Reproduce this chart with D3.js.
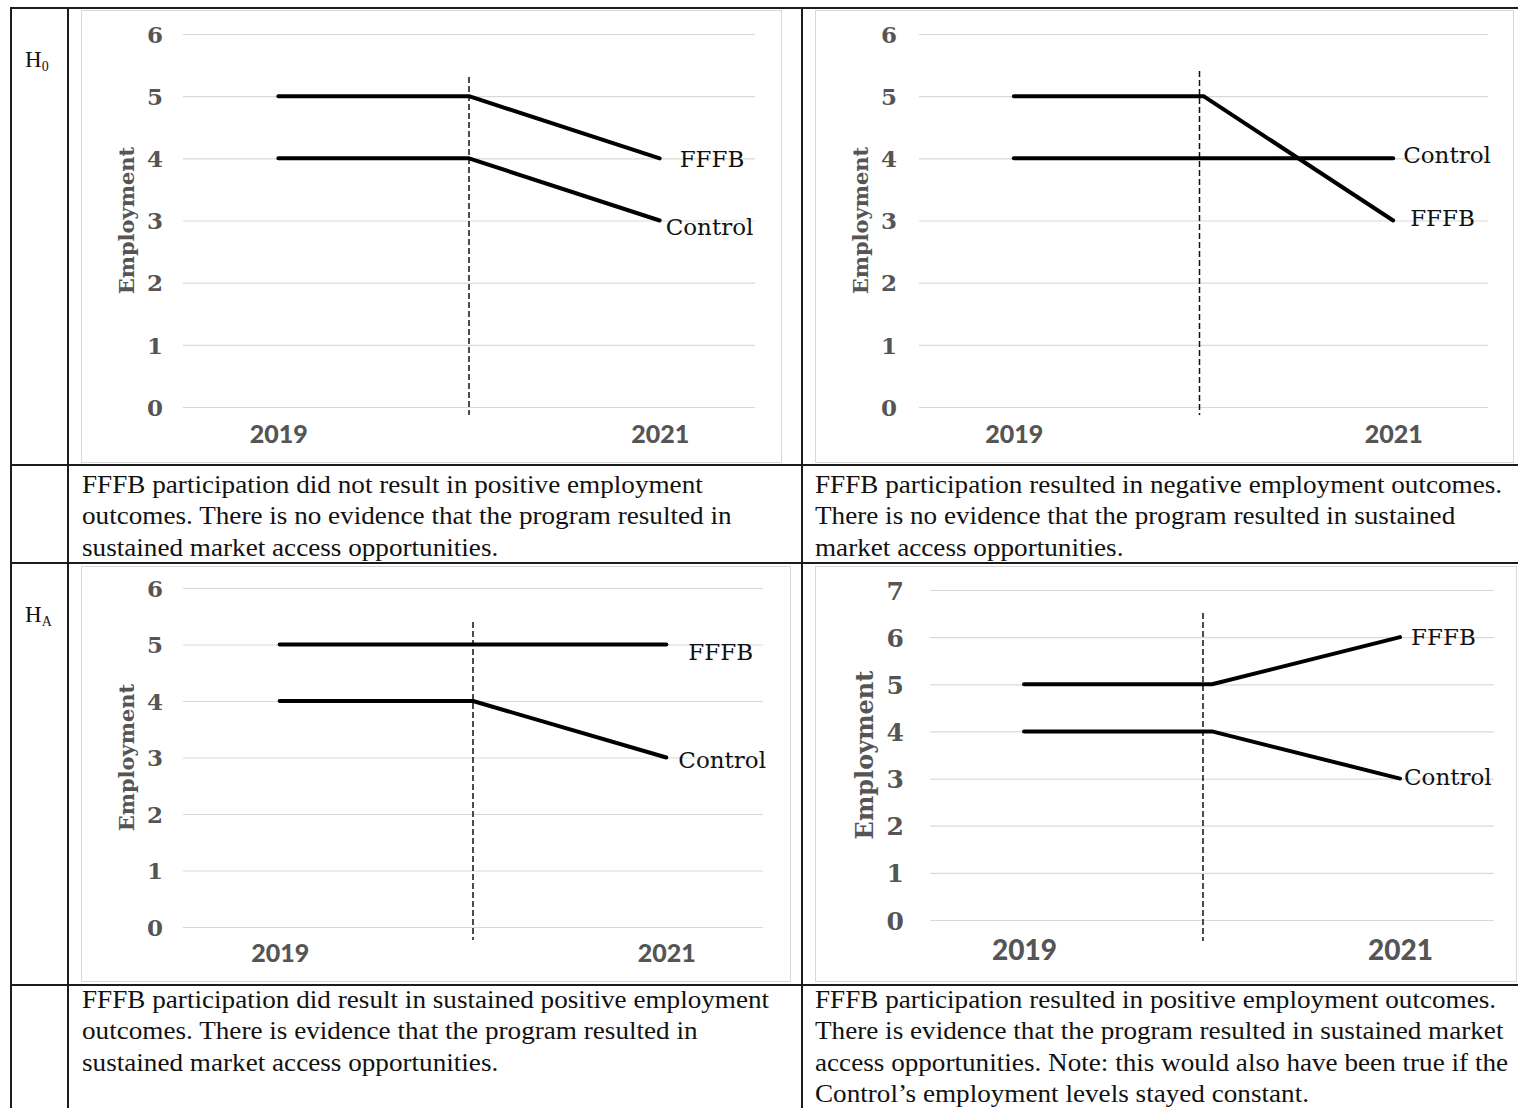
<!DOCTYPE html>
<html>
<head>
<meta charset="utf-8">
<script src="https://cdn.jsdelivr.net/npm/d3@7"></script>
<style>
  html, body { margin: 0; padding: 0; background: #ffffff; }
  svg { display: block; }
</style>
</head>
<body>
<svg id="chart" width="1518" height="1108"></svg>
<script>
// Category axis: 2019, an unlabeled middle point (program start), 2021
const years = ["2019", "", "2021"];
const seriesNames = ["FFFB", "Control"];

// H0, no positive effect
const noGainFFFB = [5, 5, 4];
const noGainControl = [4, 4, 3];
// H0, negative effect
const negativeFFFB = [5, 5, 3];
const negativeControl = [4, 4, 4];
// HA, sustained (FFFB flat, control falls)
const sustainedFFFB = [5, 5, 5];
const sustainedControl = [4, 4, 3];
// HA, positive (FFFB rises, control falls)
const positiveFFFB = [5, 5, 6];
const positiveControl = [4, 4, 3];

const ticksToSix = [0, 1, 2, 3, 4, 5, 6];
const ticksToSeven = [0, 1, 2, 3, 4, 5, 6, 7];

const yAxisTitle = "Employment";
const hypotheses = [
  { main: "H", sub: "0" },
  { main: "H", sub: "A" }
];

const noGainText = [
  "FFFB participation did not result in positive employment",
  "outcomes. There is no evidence that the program resulted in",
  "sustained market access opportunities."
];
const negativeText = [
  "FFFB participation resulted in negative employment outcomes.",
  "There is no evidence that the program resulted in sustained",
  "market access opportunities."
];
const sustainedText = [
  "FFFB participation did result in sustained positive employment",
  "outcomes. There is evidence that the program resulted in",
  "sustained market access opportunities."
];
const positiveText = [
  "FFFB participation resulted in positive employment outcomes.",
  "There is evidence that the program resulted in sustained market",
  "access opportunities. Note: this would also have been true if the",
  "Control\u2019s employment levels stayed constant."
];

// ---- layout ----
const svg = d3.select("#chart");
const W = 1518, H = 1108;
const TABLE_STROKE = "#1c1c1c";
const GRID = "#d9d9d9";
const AXIS_TEXT = "#555555";
const SERIF = "'DejaVu Serif', serif";
const SANS = "Lato, 'Open Sans', sans-serif";
const TIMES = "'Liberation Serif', 'Times New Roman', serif";

const panels = [
  { fffb: noGainFFFB, control: noGainControl, ticks: ticksToSix,
    frame: [81, 10, 781, 462], xr: [183, 755], yr: [407, 34],
    dashX: 0, dashY: [77, 415], titleX: 126, tickSize: 23, yearSize: 25, titleSize: 21,
    yearOffset: 27, tickGap: 20,
    labels: { FFFB: [20, 0], Control: [6, 6] },
    caption: noGainText, capX: 82, capY: 493 },
  { fffb: negativeFFFB, control: negativeControl, ticks: ticksToSix,
    frame: [815, 10, 1513, 462], xr: [919, 1488], yr: [407, 34],
    dashX: -4, dashY: [71, 415], titleX: 860, tickSize: 23, yearSize: 25, titleSize: 21,
    yearOffset: 27, tickGap: 22,
    labels: { FFFB: [17, -3], Control: [10, -4] },
    caption: negativeText, capX: 815, capY: 493 },
  { fffb: sustainedFFFB, control: sustainedControl, ticks: ticksToSix,
    frame: [81, 566, 790, 981], xr: [183, 763], yr: [927, 588],
    dashX: 0, dashY: [622, 940], titleX: 126, tickSize: 23, yearSize: 25, titleSize: 21,
    yearOffset: 26, tickGap: 20,
    labels: { FFFB: [22, 7], Control: [12, 2] },
    caption: sustainedText, capX: 82, capY: 1008 },
  { fffb: positiveFFFB, control: positiveControl, ticks: ticksToSeven,
    frame: [815, 566, 1516, 981], xr: [930, 1494], yr: [920, 590],
    dashX: -9, dashY: [613, 941], titleX: 864, tickSize: 25, yearSize: 28, titleSize: 24,
    yearOffset: 30, tickGap: 26,
    labels: { FFFB: [11, 0], Control: [4, -2] },
    caption: positiveText, capX: 815, capY: 1008 }
];

// ---- chart panels ----
panels.forEach(p => {
  const g = svg.append("g");

  // chart area frame
  g.append("rect")
    .attr("x", p.frame[0] + 0.5).attr("y", p.frame[1] + 0.5)
    .attr("width", p.frame[2] - p.frame[0]).attr("height", p.frame[3] - p.frame[1])
    .attr("fill", "#ffffff").attr("stroke", GRID).attr("stroke-width", 1);

  const x = d3.scalePoint().domain(d3.range(years.length)).range(p.xr).padding(0.5);
  const yMax = d3.max(p.ticks);
  const y = d3.scaleLinear().domain([0, yMax]).range(p.yr);

  // y axis with gridlines
  const yAxis = d3.axisLeft(y)
    .tickValues(p.ticks)
    .tickFormat(d3.format("d"))
    .tickSize(-(p.xr[1] - p.xr[0]))
    .tickPadding(p.tickGap);
  const yg = g.append("g").attr("transform", `translate(${p.xr[0]},0)`).call(yAxis);
  yg.select(".domain").remove();
  yg.selectAll(".tick line").attr("stroke", GRID).attr("stroke-width", 1.2);
  yg.selectAll(".tick text")
    .attr("fill", AXIS_TEXT)
    .style("font-family", SERIF).style("font-weight", "bold")
    .style("font-size", p.tickSize + "px")
    .attr("dy", "0.36em");

  // x axis labels
  const xAxis = d3.axisBottom(x).tickSize(0).tickFormat(i => years[i]);
  const xg = g.append("g").attr("transform", `translate(0,${p.yr[0]})`).call(xAxis);
  xg.select(".domain").remove();
  xg.selectAll(".tick text")
    .attr("y", p.yearOffset).attr("dy", "0.36em")
    .attr("fill", AXIS_TEXT)
    .style("font-family", SANS).style("font-weight", "900")
    .style("font-size", p.yearSize + "px");

  // y axis title
  g.append("text")
    .attr("transform", `translate(${p.titleX},${(p.yr[0] + p.yr[1]) / 2}) rotate(-90)`)
    .attr("text-anchor", "middle").attr("dy", "0.36em")
    .attr("fill", AXIS_TEXT)
    .style("font-family", SERIF).style("font-weight", "bold")
    .style("font-size", p.titleSize + "px")
    .text(yAxisTitle);

  // program start marker
  const midX = x(1) + p.dashX;
  g.append("line")
    .attr("x1", midX).attr("x2", midX)
    .attr("y1", p.dashY[0]).attr("y2", p.dashY[1])
    .attr("stroke", "#111").attr("stroke-width", 1.5)
    .attr("stroke-dasharray", "6,3");

  // series lines
  const line = d3.line().x((d, i) => x(i)).y(d => y(d));
  const series = [
    { name: seriesNames[0], values: p.fffb },
    { name: seriesNames[1], values: p.control }
  ];
  series.forEach(s => {
    g.append("path")
      .datum(s.values)
      .attr("d", line)
      .attr("fill", "none")
      .attr("stroke", "#000")
      .attr("stroke-width", 4)
      .attr("stroke-linejoin", "round")
      .attr("stroke-linecap", "round");

    const last = s.values.length - 1;
    const off = p.labels[s.name];
    g.append("text")
      .attr("x", x(last) + off[0])
      .attr("y", y(s.values[last]) + off[1])
      .attr("dy", "0.36em")
      .attr("fill", "#111")
      .style("font-family", SERIF)
      .style("font-size", "23px")
      .text(s.name);
  });

  // description under the chart
  p.caption.forEach((t, i) => {
    svg.append("text")
      .attr("transform", `translate(${p.capX},${p.capY + i * 31.3}) scale(1.045,1)`)
      .attr("fill", "#111")
      .style("font-family", TIMES)
      .style("font-size", "26px")
      .text(t);
  });
});

// ---- hypothesis labels ----
[[25, 67], [25, 622]].forEach((pos, i) => {
  const t = svg.append("text")
    .attr("x", pos[0]).attr("y", pos[1])
    .attr("fill", "#111")
    .style("font-family", TIMES)
    .style("font-size", "23px");
  t.append("tspan").text(hypotheses[i].main);
  t.append("tspan").attr("dy", 4).style("font-size", "14px").text(hypotheses[i].sub);
});

// ---- table rules ----
const rules = svg.append("g").attr("stroke", TABLE_STROKE).attr("stroke-width", 2);
[8, 465, 563, 985].forEach(yy => {
  rules.append("line").attr("x1", 10).attr("x2", W).attr("y1", yy).attr("y2", yy);
});
[11, 68, 802].forEach(xx => {
  rules.append("line").attr("x1", xx).attr("x2", xx).attr("y1", 7).attr("y2", H);
});
</script>
</body>
</html>
